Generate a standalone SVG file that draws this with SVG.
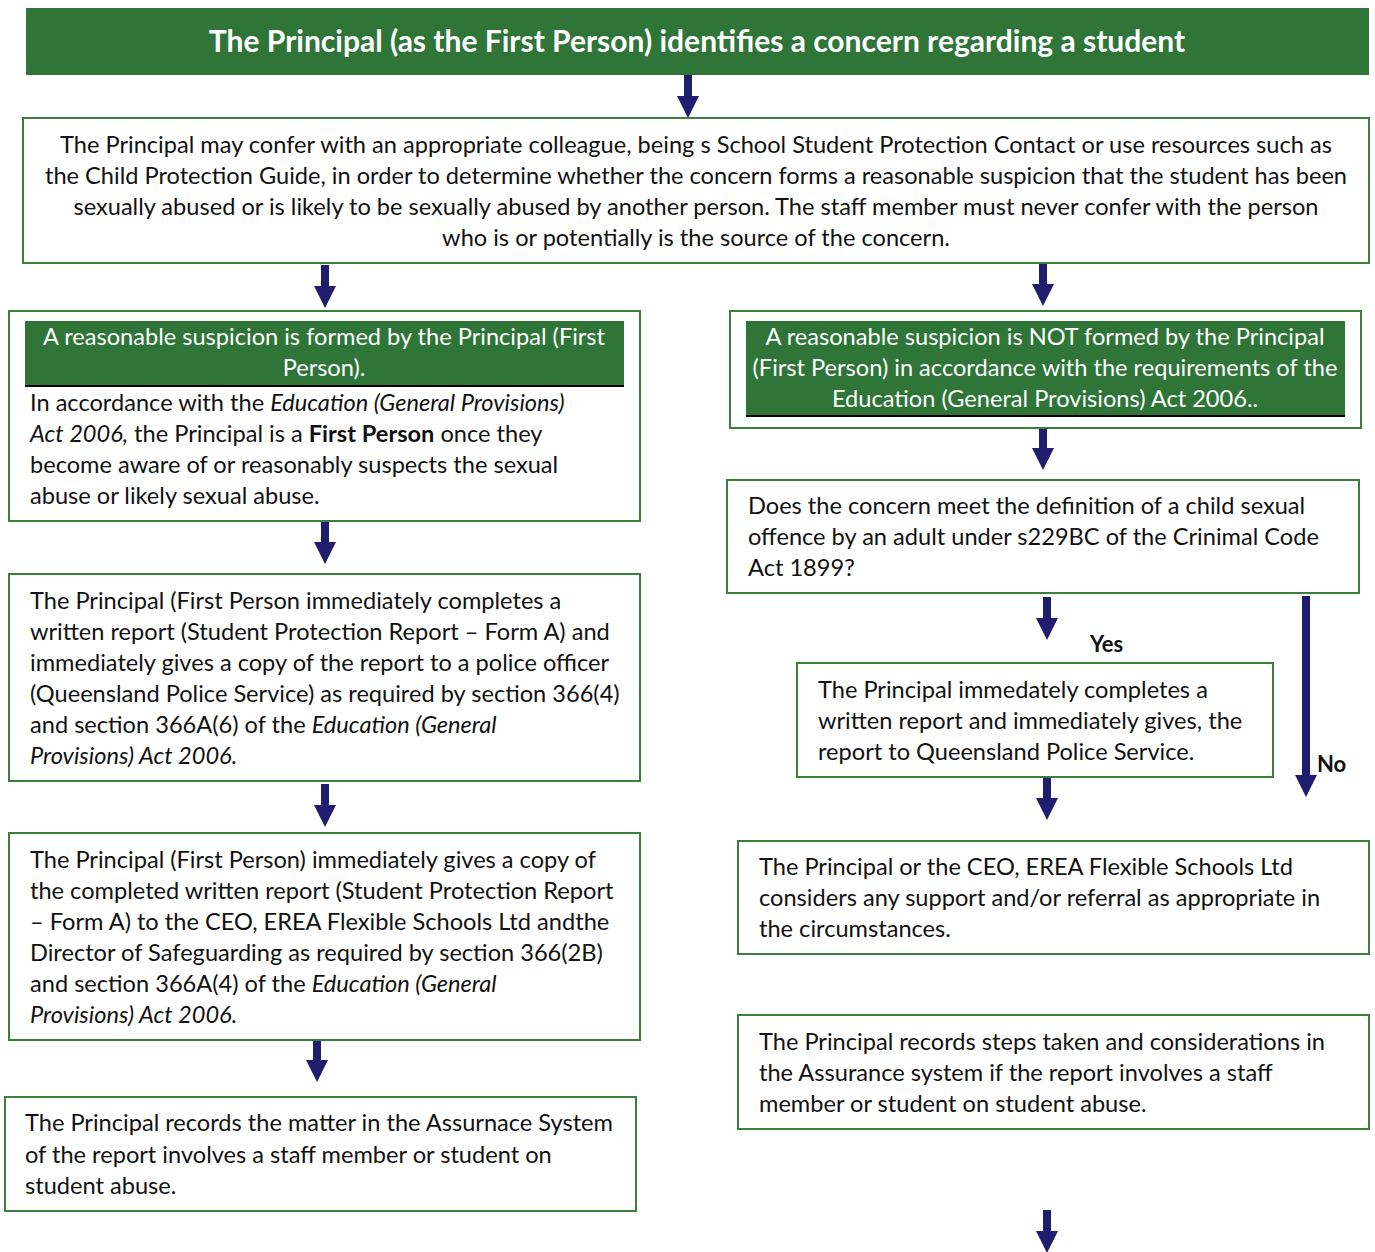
<svg xmlns="http://www.w3.org/2000/svg" width="1375" height="1252" viewBox="0 0 1375 1252">
<defs>
<style>
.box{fill:#fff;stroke:#3c7f3c;stroke-width:2}
.band{fill:#2e7537}
.t{font-family:Lato,"Open Sans",sans-serif;font-size:23.6px;fill:#111}
.w{font-family:Lato,"Open Sans",sans-serif;font-size:23.6px;fill:#fff}
.c{text-anchor:middle}
.b{font-weight:bold}
.i{font-style:italic}
.arr{fill:#211d6e}
</style>
<path id="ar" d="M-4,0 H4 V21 H11 L0,43 L-11,21 H-4 Z"/>
</defs>
<rect width="1375" height="1252" fill="#fff"/>

<g id="connectors">
<use href="#ar" class="arr" x="688" y="75"/>
<use href="#ar" class="arr" x="325" y="265"/>
<use href="#ar" class="arr" x="1043" y="263"/>
<use href="#ar" class="arr" x="1043" y="427"/>
<use href="#ar" class="arr" x="1047" y="597"/>
<path class="arr" d="M1302,596 H1310 V775 H1317 L1306,797 L1295,775 H1302 Z"/>
<use href="#ar" class="arr" x="1047" y="777"/>
<use href="#ar" class="arr" x="1047" y="1210"/>
<use href="#ar" class="arr" x="325" y="521"/>
<use href="#ar" class="arr" x="325" y="784"/>
<use href="#ar" class="arr" x="317" y="1039"/>
<text class="t b" x="1090" y="652" style="font-size:22px">Yes</text>
<text class="t b" x="1317" y="772" style="font-size:22px">No</text>
</g>

<g id="n-start">
<rect class="band" x="26" y="8" width="1343" height="67"/>
<text class="w b c" x="697" y="52" style="font-size:30px">The Principal (as the First Person) identifies a concern regarding a student</text>
</g>

<g id="n-confer">
<rect class="box" x="23" y="118" width="1346" height="145"/>
<text class="t c" x="696" y="153">The Principal may confer with an appropriate colleague, being s School Student Protection Contact or use resources such as</text>
<text class="t c" x="696" y="184">the Child Protection Guide, in order to determine whether the concern forms a reasonable suspicion that the student has been</text>
<text class="t c" x="696" y="215">sexually abused or is likely to be sexually abused by another person.  The staff member must never confer with the person</text>
<text class="t c" x="696" y="246">who is or potentially is the source of the concern.</text>
</g>

<g id="n-formed">
<rect class="box" x="9" y="311" width="631" height="210"/>
<rect class="band" x="25" y="321" width="599" height="65"/>
<line x1="25" y1="386" x2="624" y2="386" stroke="#000" stroke-width="2"/>
<text class="w c" x="324" y="345">A reasonable suspicion is formed by the Principal (First</text>
<text class="w c" x="324" y="376">Person).</text>
<text class="t" x="30" y="411">In accordance with the <tspan class="i">Education (General Provisions)</tspan></text>
<text class="t" x="30" y="442"><tspan class="i">Act 2006,</tspan> the Principal is a <tspan class="b">First Person</tspan> once they</text>
<text class="t" x="30" y="473">become aware of or reasonably suspects the sexual</text>
<text class="t" x="30" y="504">abuse or likely sexual abuse.</text>
</g>

<g id="n-police-report">
<rect class="box" x="9" y="574" width="631" height="207"/>
<text class="t" x="30" y="609">The Principal (First Person immediately completes a</text>
<text class="t" x="30" y="640">written report (Student Protection Report – Form A) and</text>
<text class="t" x="30" y="671">immediately gives a copy of the report to a police officer</text>
<text class="t" x="30" y="702">(Queensland Police Service) as required by section 366(4)</text>
<text class="t" x="30" y="733">and section 366A(6) of the <tspan class="i">Education (General</tspan></text>
<text class="t i" x="30" y="764">Provisions) Act 2006.</text>
</g>

<g id="n-ceo-copy">
<rect class="box" x="9" y="833" width="631" height="207"/>
<text class="t" x="30" y="868">The Principal (First Person) immediately gives a copy of</text>
<text class="t" x="30" y="899">the completed written report (Student Protection Report</text>
<text class="t" x="30" y="930">– Form A) to the CEO, EREA Flexible Schools Ltd andthe</text>
<text class="t" x="30" y="961">Director of Safeguarding as required by section 366(2B)</text>
<text class="t" x="30" y="992">and section 366A(4) of the <tspan class="i">Education (General</tspan></text>
<text class="t i" x="30" y="1023">Provisions) Act 2006.</text>
</g>

<g id="n-record-left">
<rect class="box" x="5" y="1097" width="631" height="114"/>
<text class="t" x="25" y="1131">The Principal records the matter in the Assurnace System</text>
<text class="t" x="25" y="1163">of the report involves a staff member or student on</text>
<text class="t" x="25" y="1194">student abuse.</text>
</g>

<g id="n-not-formed">
<rect class="box" x="730" y="311" width="631" height="117"/>
<rect class="band" x="746" y="321" width="599" height="95"/>
<line x1="746" y1="416" x2="1345" y2="416" stroke="#000" stroke-width="2"/>
<text class="w c" x="1045" y="345">A reasonable suspicion is NOT formed by the Principal</text>
<text class="w c" x="1045" y="376">(First Person) in accordance with the requirements of the</text>
<text class="w c" x="1045" y="407">Education (General Provisions) Act 2006..</text>
</g>

<g id="n-question">
<rect class="box" x="727" y="480" width="632" height="113"/>
<text class="t" x="748" y="514">Does the concern meet the definition of a child sexual</text>
<text class="t" x="748" y="545">offence by an adult under s229BC of the Crinimal Code</text>
<text class="t" x="748" y="576">Act 1899?</text>
</g>

<g id="n-qps">
<rect class="box" x="797" y="663" width="476" height="114"/>
<text class="t" x="818" y="698">The Principal immedately completes a</text>
<text class="t" x="818" y="729">written report and immediately gives, the</text>
<text class="t" x="818" y="760">report to Queensland Police Service.</text>
</g>

<g id="n-support">
<rect class="box" x="738" y="841" width="631" height="113"/>
<text class="t" x="759" y="875">The Principal or the CEO, EREA Flexible Schools Ltd</text>
<text class="t" x="759" y="906">considers any support and/or referral as appropriate in</text>
<text class="t" x="759" y="937">the circumstances.</text>
</g>

<g id="n-record-right">
<rect class="box" x="738" y="1015" width="631" height="114"/>
<text class="t" x="759" y="1050">The Principal records steps taken and considerations in</text>
<text class="t" x="759" y="1081">the Assurance system if the report involves a staff</text>
<text class="t" x="759" y="1112">member or student on student abuse.</text>
</g>
</svg>
